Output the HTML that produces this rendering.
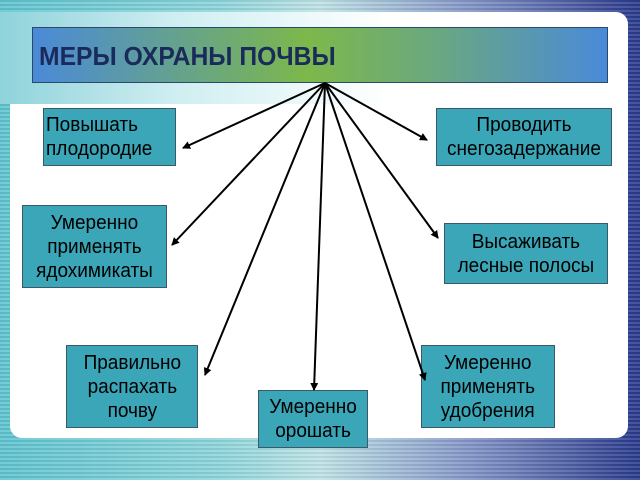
<!DOCTYPE html>
<html><head><meta charset="utf-8"><style>
body{margin:0;width:640px;height:480px;overflow:hidden;position:relative;font-family:"Liberation Sans","Noto Sans CJK SC",sans-serif;
background:linear-gradient(90deg,#5fc4d0 0%,#8fd6dc 35%,#bfe3e6 50%,#7f8fc4 75%,#2a3a8c 100%);}
.stripes{position:absolute;inset:0;background:repeating-linear-gradient(0deg,rgba(255,255,255,0.12) 0 2px,rgba(0,0,0,0.06) 2px 4px);}
.panel{position:absolute;left:10px;top:12px;width:618px;height:426px;background:#fff;border-radius:12px;}
.fade{position:absolute;left:0;top:12px;width:390px;height:92px;background:linear-gradient(90deg,#8fd3db 0%,#cfeef1 45%,rgba(255,255,255,0) 100%);}
.title{position:absolute;left:32px;top:27px;width:576px;height:56px;box-sizing:border-box;border:1px solid #2a4a6a;
background:linear-gradient(90deg,#4a8ad8 0%,#7db84a 48%,#6aa880 70%,#4a8ad8 100%);color:#1a2a5a;font-weight:bold;font-size:26px;line-height:56px;padding-left:6px;}
.title span{display:inline-block;transform:scaleX(0.95);transform-origin:left center;}
.b{position:absolute;box-sizing:border-box;background:#3aa6b8;border:1px solid #3a5a6a;color:#000;font-size:20px;line-height:24px;text-align:center;display:flex;align-items:center;justify-content:center;}
.b span{display:inline-block;transform:scaleX(0.95);white-space:nowrap;}
</style></head><body>
<div class="stripes"></div>
<div class="panel"></div>
<div class="fade"></div>
<div class="title"><span>МЕРЫ ОХРАНЫ ПОЧВЫ</span></div>
<div class="b" style="left:43px;top:108px;width:133px;height:58px;justify-content:flex-start;text-align:left;padding-left:2px"><span style="transform-origin:left center">Повышать<br>плодородие</span></div>
<div class="b" style="left:436px;top:108px;width:176px;height:58px"><span>Проводить<br>снегозадержание</span></div>
<div class="b" style="left:22px;top:205px;width:145px;height:83px"><span>Умеренно<br>применять<br>ядохимикаты</span></div>
<div class="b" style="left:444px;top:223px;width:164px;height:61px"><span>Высаживать<br>лесные полосы</span></div>
<div class="b" style="left:66px;top:345px;width:132px;height:83px"><span>Правильно<br>распахать<br>почву</span></div>
<div class="b" style="left:258px;top:390px;width:110px;height:58px"><span>Умеренно<br>орошать</span></div>
<div class="b" style="left:421px;top:345px;width:134px;height:83px"><span>Умеренно<br>применять<br>удобрения</span></div>
<svg width="640" height="480" style="position:absolute;left:0;top:0">
<defs><marker id="a" markerWidth="8" markerHeight="8" refX="7" refY="4" orient="auto" markerUnits="userSpaceOnUse"><path d="M0,0 L8,4 L0,8 z" fill="#000"/></marker></defs>
<g stroke="#000" stroke-width="2" marker-end="url(#a)">
<line x1="325" y1="83" x2="183" y2="148"/>
<line x1="325" y1="83" x2="427" y2="140"/>
<line x1="325" y1="83" x2="172" y2="245"/>
<line x1="325" y1="83" x2="438" y2="238"/>
<line x1="325" y1="83" x2="205" y2="375"/>
<line x1="325" y1="83" x2="314" y2="390"/>
<line x1="325" y1="83" x2="425" y2="380"/>
</g></svg>
</body></html>
